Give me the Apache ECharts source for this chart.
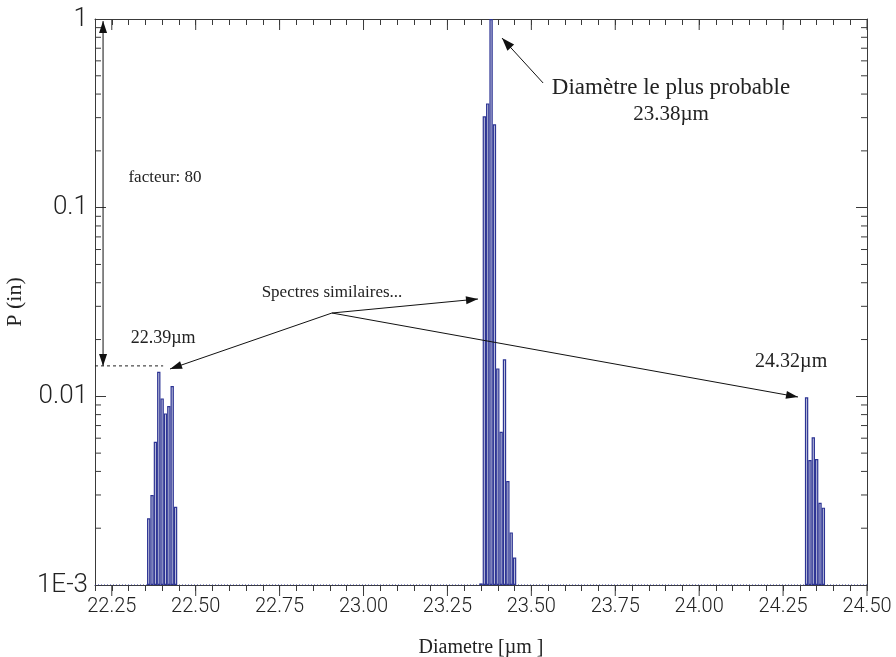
<!DOCTYPE html>
<html><head><meta charset="utf-8">
<script src="https://cdn.jsdelivr.net/npm/echarts@6/dist/echarts.min.js"></script>
<style>html,body{margin:0;padding:0;background:#fff}#c{width:896px;height:657px}</style>
</head><body><div id="c"></div>
<script>
// ---- data ----
const leftBinX  = [22.36, 22.37, 22.38, 22.39, 22.40, 22.41, 22.42, 22.43, 22.44];
const leftBinP  = [0.00226, 0.0030, 0.00574, 0.01349, 0.00975, 0.00812, 0.00889, 0.01135, 0.0026];
const midBinX   = [23.35, 23.36, 23.37, 23.38, 23.39, 23.40, 23.41, 23.42, 23.43, 23.44, 23.45];
const midBinP   = [0.00102, 0.305, 0.357, 1.0, 0.277, 0.01406, 0.00649, 0.0157, 0.00356, 0.0019, 0.0014];
const rightBinX = [24.32, 24.33, 24.34, 24.35, 24.36, 24.37];
const rightBinP = [0.00988, 0.0046, 0.00607, 0.00465, 0.00273, 0.00257];
const xMajorTicks = [22.25, 22.50, 22.75, 23.00, 23.25, 23.50, 23.75, 24.00, 24.25, 24.50];
const yTickValues = [0.001, 0.01, 0.1, 1];
const yTickLabels = ['1E-3', '0.01', '0.1', '1'];
const yMinorTicks = [2,3,4,5,6,7,8,9].flatMap(m => [1e-3, 1e-2, 1e-1].map(d => m * d));
const xMin = 22.20, xMax = 24.50, yMin = 0.001, yMax = 1, binWidth = 0.01;
const xTitle = 'Diametre [µm ]';
const yTitle = 'P (in)';

// annotation anchors (data coordinates)
const ann = {
  factorArrow: { x: 22.224, yTop: 0.975, yBottom: 0.0145 },
  factorDash: { x1: 22.20, x2: 22.403, y: 0.0145 },
  factorText: { x: 22.4086, y: 0.1436, text: 'facteur: 80' },
  leftText: { x: 22.403, y: 0.0204, text: '22.39µm' },
  rightText: { x: 24.274, y: 0.0152, text: '24.32µm' },
  simText: { x: 22.906, y: 0.0357, text: 'Spectres similaires...' },
  simOrigin: { x: 22.906, y: 0.02765 },
  simTips: [ { x: 22.4235, y: 0.01396 }, { x: 23.341, y: 0.0328 }, { x: 24.2945, y: 0.00992 } ],
  probText: { x: 23.916, y: 0.4305, text: 'Diamètre le plus probable' },
  probVal: { x: 23.916, y: 0.3136, text: '23.38µm' },
  probFrom: { x: 23.535, y: 0.458 },
  probTip: { x: 23.4126, y: 0.7925 }
};

const axisColor = '#3a3a3a';
const barFill = '#c4c7df';
const barEdge = '#2d3494';
const tickFont = 'Roboto';
const annFont = '"Liberation Serif", serif';

const toPairs = (xs, ys) => xs.map((x, i) => [x, ys[i]]);
const allBins = [].concat(toPairs(leftBinX, leftBinP), toPairs(midBinX, midBinP), toPairs(rightBinX, rightBinP));

const chart = echarts.init(document.getElementById('c'), null, { renderer: 'canvas' });
const grid = { left: 95, right: 29, top: 19, bottom: 72, containLabel: false, outerBoundsMode: 'none' };
const pxPerUnit = (896 - grid.left - grid.right) / (xMax - xMin);

const isMajor = v => xMajorTicks.some(t => Math.abs(t - v) < 1e-6);
const line = (x1, y1, x2, y2) => ({ type: 'line', shape: { x1, y1, x2, y2 }, style: { stroke: axisColor, lineWidth: 1 } });

chart.setOption({
  animation: false,
  backgroundColor: '#fff',
  grid: grid,
  xAxis: [
    { type: 'value', position: 'bottom', min: xMin, max: xMax, interval: 0.05,
      axisLine: { show: true, onZero: false, lineStyle: { color: axisColor, width: 1 } },
      axisTick: { show: true, inside: false, length: 6, lineStyle: { color: axisColor } },
      axisLabel: { show: true, margin: 12, color: '#222', fontFamily: tickFont, fontWeight: 300, fontSize: 20,
        formatter: v => isMajor(v) ? v.toFixed(2) : '' },
      splitLine: { show: false },
      name: xTitle, nameLocation: 'middle', nameGap: 53,
      nameTextStyle: { fontFamily: annFont, fontSize: 20, color: '#222' } },
    { type: 'value', position: 'top', min: xMin, max: xMax, interval: 0.05,
      axisLine: { show: true, onZero: false, lineStyle: { color: axisColor, width: 1 } },
      axisTick: { show: true, inside: true, length: 6, lineStyle: { color: axisColor } },
      axisLabel: { show: false }, splitLine: { show: false } }
  ],
  yAxis: [
    { type: 'log', logBase: 10, position: 'left', min: yMin, max: yMax, startValue: yMin,
      axisLine: { show: true, onZero: false, lineStyle: { color: axisColor, width: 1 } },
      axisTick: { show: true, inside: true, length: 11, lineStyle: { color: axisColor } },
      axisLabel: { show: true, margin: 7, color: '#222', fontFamily: tickFont, fontWeight: 300, fontSize: 26,
        formatter: v => { const i = yTickValues.findIndex(t => Math.abs(Math.log10(t) - Math.log10(v)) < 1e-6); return i >= 0 ? yTickLabels[i] : ''; } },
      splitLine: { show: false },
      name: yTitle, nameLocation: 'middle', nameGap: 60, nameRotate: 90,
      nameTextStyle: { fontFamily: annFont, fontSize: 22, color: '#222' } },
    { type: 'log', logBase: 10, position: 'right', min: yMin, max: yMax,
      axisLine: { show: true, onZero: false, lineStyle: { color: axisColor, width: 1 } },
      axisTick: { show: true, inside: true, length: 11, lineStyle: { color: axisColor } },
      axisLabel: { show: false }, splitLine: { show: false } }
  ],
  series: [
    { type: 'bar', xAxisIndex: 0, yAxisIndex: 0, data: allBins,
      barWidth: binWidth * pxPerUnit,
      itemStyle: { color: barFill, borderColor: barEdge, borderWidth: 1.2 }, z: 3 },
    { type: 'line', xAxisIndex: 0, yAxisIndex: 0, data: [[xMin, yMin], [xMax, yMin]], symbol: 'none',
      lineStyle: { color: barEdge, width: 1, type: [1, 2] }, z: 4 },
    { type: 'custom', xAxisIndex: 0, yAxisIndex: 0, silent: true, z: 5,
      data: yMinorTicks.map(v => [xMin, v]),
      renderItem: (params, api) => {
        const v = api.value(1);
        const l = api.coord([xMin, v]), r = api.coord([xMax, v]);
        return { type: 'group', children: [ line(l[0], l[1], l[0] + 6, l[1]), line(r[0] - 6, r[1], r[0], r[1]) ] };
      } },
    { type: 'custom', xAxisIndex: 0, yAxisIndex: 0, silent: true, z: 5,
      data: xMajorTicks.map(v => [v, yMin]),
      renderItem: (params, api) => {
        const v = api.value(0);
        const b = api.coord([v, yMin]), t = api.coord([v, yMax]);
        return { type: 'group', children: [ line(b[0], b[1], b[0], b[1] + 11), line(t[0], t[1], t[0], t[1] + 11) ] };
      } }
  ]
});

// ---- annotations ----
const P = (x, y) => chart.convertToPixel({ gridIndex: 0 }, [x, y]);
function arrowHead(tip, from, len, half) {
  const dx = tip[0] - from[0], dy = tip[1] - from[1];
  const d = Math.hypot(dx, dy) || 1, ux = dx / d, uy = dy / d;
  const bx = tip[0] - ux * len, by = tip[1] - uy * len;
  return { type: 'polygon', shape: { points: [tip, [bx - uy * half, by + ux * half], [bx + uy * half, by - ux * half]] },
           style: { fill: '#111' }, z: 20 };
}
function arrowLine(a, b) { return { type: 'line', shape: { x1: a[0], y1: a[1], x2: b[0], y2: b[1] }, style: { stroke: '#111', lineWidth: 1 }, z: 20 }; }
function txt(p, text, size, align) {
  return { type: 'text', x: p[0], y: p[1], z: 20,
    style: { text, fill: '#222', font: size + 'px ' + annFont, align: align || 'center', verticalAlign: 'middle' } };
}
const g = [];
const fa = ann.factorArrow;
const faT = P(fa.x, fa.yTop), faB = P(fa.x, fa.yBottom);
g.push(arrowLine(faT, faB), arrowHead(faT, faB, 12, 4), arrowHead(faB, faT, 12, 4));
const fd = ann.factorDash;
const d1 = P(fd.x1, fd.y), d2 = P(fd.x2, fd.y);
g.push({ type: 'line', shape: { x1: d1[0], y1: d1[1], x2: d2[0], y2: d2[1] }, style: { stroke: '#222', lineWidth: 1, lineDash: [3, 3] }, z: 20 });
g.push(txt(P(ann.factorText.x, ann.factorText.y), ann.factorText.text, 17));
g.push(txt(P(ann.leftText.x, ann.leftText.y), ann.leftText.text, 18));
g.push(txt(P(ann.rightText.x, ann.rightText.y), ann.rightText.text, 20));
g.push(txt(P(ann.simText.x, ann.simText.y), ann.simText.text, 17));
const so = P(ann.simOrigin.x, ann.simOrigin.y);
ann.simTips.forEach(t => { const tp = P(t.x, t.y); g.push(arrowLine(so, tp), arrowHead(tp, so, 12, 4)); });
g.push(txt(P(ann.probText.x, ann.probText.y), ann.probText.text, 23));
g.push(txt(P(ann.probVal.x, ann.probVal.y), ann.probVal.text, 21));
const pf = P(ann.probFrom.x, ann.probFrom.y), pt = P(ann.probTip.x, ann.probTip.y);
g.push(arrowLine(pf, pt), arrowHead(pt, pf, 13, 4.5));
chart.setOption({ graphic: g });
</script>
</body></html>
